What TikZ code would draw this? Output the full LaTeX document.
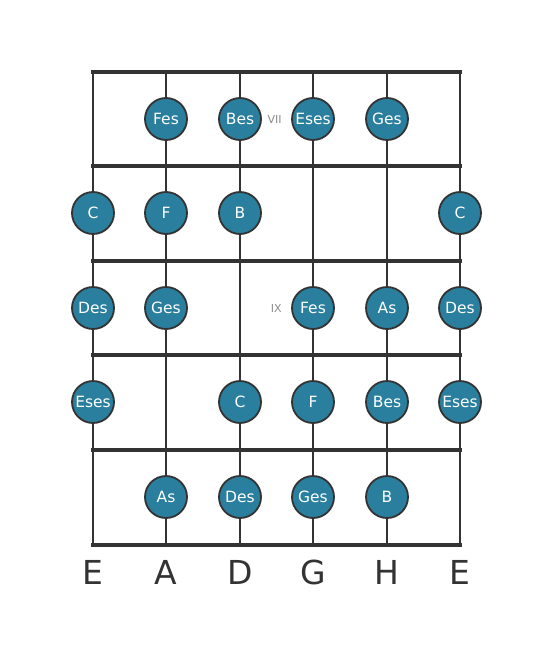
\documentclass[tikz,border=0pt]{standalone}
\usepackage{fontspec}
\setmainfont{DejaVu Sans}
\usetikzlibrary{positioning}
\definecolor{dotblue}{RGB}{42,127,158}
\definecolor{wire}{RGB}{51,51,51}
\definecolor{markgray}{RGB}{140,140,140}

\begin{document}
\begin{tikzpicture}[x=1pt,y=-1pt,
    fret/.style={wire,line width=4pt},
    string/.style={wire,line width=2.4pt},
    note/.style={circle,draw=wire,line width=1.8pt,fill=dotblue,minimum size=42pt,inner sep=0pt,text=white,font=\fontsize{15.5}{15.5}\selectfont},
    posmark/.style={text=markgray,font=\fontsize{11}{11}\selectfont},
    tuning/.style={text=wire,font=\fontsize{33}{33}\selectfont}]

    \useasboundingbox (0,0) rectangle (553,656);

    % strings
    \foreach \s/\x in {1/93,2/166,3/240,4/313,5/387,6/460} {
        \coordinate (top-\s) at (\x,72);
        \coordinate (bot-\s) at (\x,545);
        \draw[string] (top-\s) -- (bot-\s);
    }
    % frets
    \foreach \f/\y in {0/72,1/166,2/261,3/355,4/450,5/545} {
        \coordinate (fl-\f) at (93,\y);
        \coordinate (fr-\f) at (460,\y);
        \draw[fret,line cap=rect] (fl-\f) -- (fr-\f);
    }

    % notes
    \foreach \s/\x/\f/\y/\t in {
        2/166/1/119/Fes, 3/240/1/119/Bes, 4/313/1/119/Eses, 5/387/1/119/Ges,
        1/93/2/213/C, 2/166/2/213/F, 3/240/2/213/B, 6/460/2/213/C,
        1/93/3/308/Des, 2/166/3/308/Ges, 4/313/3/308/Fes, 5/387/3/308/As, 6/460/3/308/Des,
        1/93/4/402/Eses, 3/240/4/402/C, 4/313/4/402/F, 5/387/4/402/Bes, 6/460/4/402/Eses,
        2/166/5/497/As, 3/240/5/497/Des, 4/313/5/497/Ges, 5/387/5/497/B}
        \node[note] (n-\f-\s) at (\x,\y) {\t};

    % position marks
    \node[posmark,left=6pt of n-1-4] (vii) {VII};
    \node[posmark,left=6pt of n-3-4] (ix) {IX};

    % tuning
    \foreach \s/\t in {1/E,2/A,3/D,4/G,5/H,6/E}
        \node[tuning,below=15pt of bot-\s,inner sep=0pt] (tun-\s) {\t};

\end{tikzpicture}
\end{document}
